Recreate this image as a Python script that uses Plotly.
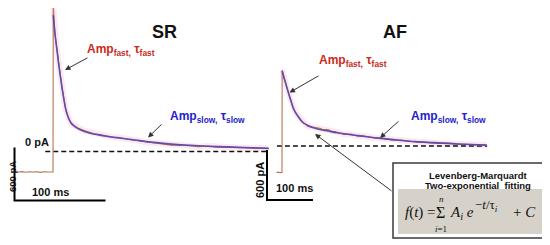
import plotly.graph_objects as go

# ---- data (time in ms, current in pA) ----
# SR: raw current trace
sr_raw_t = [-38, -34, -30, -26, -22, -18, -14, -10, -6, -2, 0, 0.3, 1, 2, 3, 4, 6, 8, 10, 12, 14,
            17, 20, 24, 28, 32, 36, 40, 45, 50, 55, 60, 66, 72, 80, 88, 96, 104, 112, 120, 130,
            140, 150, 160, 170, 180, 190, 200, 210, 220, 230, 237]
sr_raw_i = [-232, -228, -235, -229, -233, -230, -236, -229, -232, -234, -232, 1659, 1450, 1360, 1260,
            1180, 1000, 870, 715, 600, 470, 385, 312, 290, 262, 245, 232, 222, 200, 196, 180, 175,
            160, 158, 140, 128, 120, 104, 96, 86, 72, 74, 62, 55, 62, 48, 50, 44, 46, 38, 36, 34]
# SR: two-exponential fit
sr_fit_t = [0.3, 2, 4, 6, 8, 10, 12, 14, 17, 20, 24, 30, 40, 50, 60, 75, 90, 110, 130, 150, 170,
            190, 210, 237]
sr_fit_i = [1545, 1350, 1180, 1010, 860, 720, 590, 480, 380, 322, 282, 247, 210, 188, 170, 150,
            130, 103, 84, 70, 60, 52, 45, 35]

# AF: raw current trace
af_raw_t = [-12, -8, -4, -1, 0, 0.3, 2, 5, 8, 10, 13, 16, 20, 24, 28, 32, 36, 40, 45, 50, 56, 62,
            68, 75, 82, 90, 100, 110, 120, 135, 150, 165, 180, 200, 220, 240, 260, 280, 300, 320,
            340, 360, 380, 400, 420, 445]
af_raw_i = [-318, -314, -320, -316, -318, 912, 860, 800, 748, 705, 660, 602, 540, 458, 418, 380,
            350, 318, 282, 268, 238, 232, 226, 212, 214, 196, 196, 172, 166, 140, 142, 118, 120, 96,
            92, 70, 70, 56, 46, 42, 32, 34, 22, 20, 14, 10]
# AF: two-exponential fit
af_fit_t = [0.5, 5, 10, 15, 20, 25, 30, 35, 45, 55, 65, 80, 100, 120, 150, 180, 210, 250, 290,
            330, 370, 410, 445]
af_fit_i = [900, 810, 715, 620, 530, 450, 395, 355, 285, 250, 225, 200, 180, 160, 135, 115, 95,
            72, 52, 40, 28, 18, 10]

# zero-current reference lines and scale bars (100 ms / 600 pA)
sr_zero_t = [-8.5, 237]
af_zero_t = [-11, 446]
zero_i = [0, 0]
sr_bar_t = [-42.3, -42.3, 57.7]
sr_bar_i = [45, -555, -555]
af_bar_t = [-32.6, -32.6, 67.4]
af_bar_i = [-48, -648, -648]

# the page body keeps its default 8px margin, so the figure starts 8px in
PAD = 8
W, H = 550 - PAD, 245 - PAD
def px(x):
    return (x - PAD) / W
def py(y):
    return 1 - (y - PAD) / H

RAW = "#b97452"
FIT = "#5a4ea6"
HALO = "rgba(250,165,210,0.28)"
FONT = "Arial, Liberation Sans, sans-serif"

fig = go.Figure()

for xa, ya, rt, ri, ft, fi, zt, bt, bi in [
        ("x", "y", sr_raw_t, sr_raw_i, sr_fit_t, sr_fit_i, sr_zero_t, sr_bar_t, sr_bar_i),
        ("x2", "y2", af_raw_t, af_raw_i, af_fit_t, af_fit_i, af_zero_t, af_bar_t, af_bar_i)]:
    k = rt.index(0) + 1
    fig.add_trace(go.Scatter(x=rt[k:], y=ri[k:], xaxis=xa, yaxis=ya, mode="lines",
                             line=dict(color=HALO, width=6), hoverinfo="skip"))
    fig.add_trace(go.Scatter(x=zt, y=zero_i, xaxis=xa, yaxis=ya, mode="lines",
                             line=dict(color="#111", width=1.5, dash="5px,3px")))
    fig.add_trace(go.Scatter(x=rt, y=ri, xaxis=xa, yaxis=ya, mode="lines",
                             line=dict(color=RAW, width=1.1)))
    fig.add_trace(go.Scatter(x=ft, y=fi, xaxis=xa, yaxis=ya, mode="lines",
                             line=dict(color=FIT, width=1.6, shape="spline")))
    fig.add_trace(go.Scatter(x=bt, y=bi, xaxis=xa, yaxis=ya, mode="lines",
                             line=dict(color="#000", width=2)))

ax_off = dict(visible=False, showgrid=False, zeroline=False, fixedrange=True)
fig.update_layout(
    width=W, height=H, margin=dict(l=0, r=0, t=0, b=0),
    paper_bgcolor="white", plot_bgcolor="white", showlegend=False,
    font=dict(family=FONT, color="#111"),
    xaxis=dict(domain=[0, 1], range=[(PAD - 53) / 0.91, (550 - 53) / 0.91], **ax_off),
    yaxis=dict(domain=[0, 1], range=[(151.5 - 245) / 0.0883, (151.5 - PAD) / 0.0883], **ax_off),
    xaxis2=dict(domain=[0, 1], range=[(PAD - 282) / 0.46, (550 - 282) / 0.46], overlaying="x",
                **ax_off),
    yaxis2=dict(domain=[0, 1], range=[(146 - 245) / 0.0833, (146 - PAD) / 0.0833], overlaying="y",
                anchor="x2", **ax_off),
)

# formula box
fig.add_shape(type="rect", xref="paper", yref="paper", x0=px(393), x1=px(546), y0=py(238), y1=py(163),
              line=dict(color="#3a3a3a", width=1.5), fillcolor="white")
fig.add_shape(type="rect", xref="paper", yref="paper", x0=px(398), x1=px(542), y0=py(234), y1=py(189),
              line=dict(width=0), fillcolor="#d6d1c9")

def label(x, y, text, size=11, color="#111", anchor="center", angle=0, bold=True, family=FONT):
    t = "<b>%s</b>" % text if bold else text
    fig.add_annotation(x=px(x), y=py(y), xref="paper", yref="paper", text=t, showarrow=False,
                       xanchor=anchor, yanchor="middle", textangle=angle,
                       font=dict(size=size, color=color, family=family))

def arrow(xh, yh, xt, yt):
    fig.add_annotation(x=px(xh), y=py(yh), xref="paper", yref="paper", text="", showarrow=True,
                       ax=xt - xh, ay=yt - yh, arrowhead=2, arrowsize=1.1, arrowwidth=1,
                       arrowcolor="#333")

RED = "#cc2a1a"
BLUE = "#2222cc"
fast = "Amp<sub>fast,</sub> τ<sub>fast</sub>"
slow = "Amp<sub>slow,</sub> τ<sub>slow</sub>"

label(164, 32, "SR", size=18)
label(395, 32, "AF", size=18)
label(85, 50, fast, size=12, color=RED, anchor="left")
label(168, 117, slow, size=12, color=BLUE, anchor="left")
label(317, 61, fast, size=12, color=RED, anchor="left")
label(409, 117, slow, size=12, color=BLUE, anchor="left")
label(36.5, 142, "0 pA", size=11)
label(12, 177, "600 pA", size=9.5, angle=-90)
label(50, 192, "100 ms", size=11)
label(260, 180, "600 pA", size=11, angle=-90)
label(294, 188, "100 ms", size=11)
label(478, 175, "Levenberg-Marquardt", size=9.5)
label(478, 185, "Two-exponential  fitting", size=9.5)

SERIF = "Liberation Serif, Times New Roman, serif"
label(403, 212, "<i>f</i>(<i>t</i>) =", size=15, anchor="left", bold=False, family=SERIF)
label(440.5, 212, "Σ", size=16, bold=False, family=SERIF)
label(441, 199, "<i>n</i>", size=9, bold=False, family=SERIF)
label(441, 229, "<i>i</i>=1", size=9, bold=False, family=SERIF)
label(448, 213, "<i>A<sub>i</sub> e</i>", size=15, anchor="left", bold=False, family=SERIF)
label(473, 205, "−<i>t</i>/τ<sub><i>i</i></sub>", size=13, anchor="left", bold=False, family=SERIF)
label(511, 212, "+ <i>C</i>", size=15, anchor="left", bold=False, family=SERIF)

arrow(65, 70, 89, 57)
arrow(148, 137.5, 163, 123)
arrow(289.5, 92.5, 320, 75)
arrow(380, 138, 400, 120)
arrow(315, 134, 393, 192)

fig.write_html("out.html")
